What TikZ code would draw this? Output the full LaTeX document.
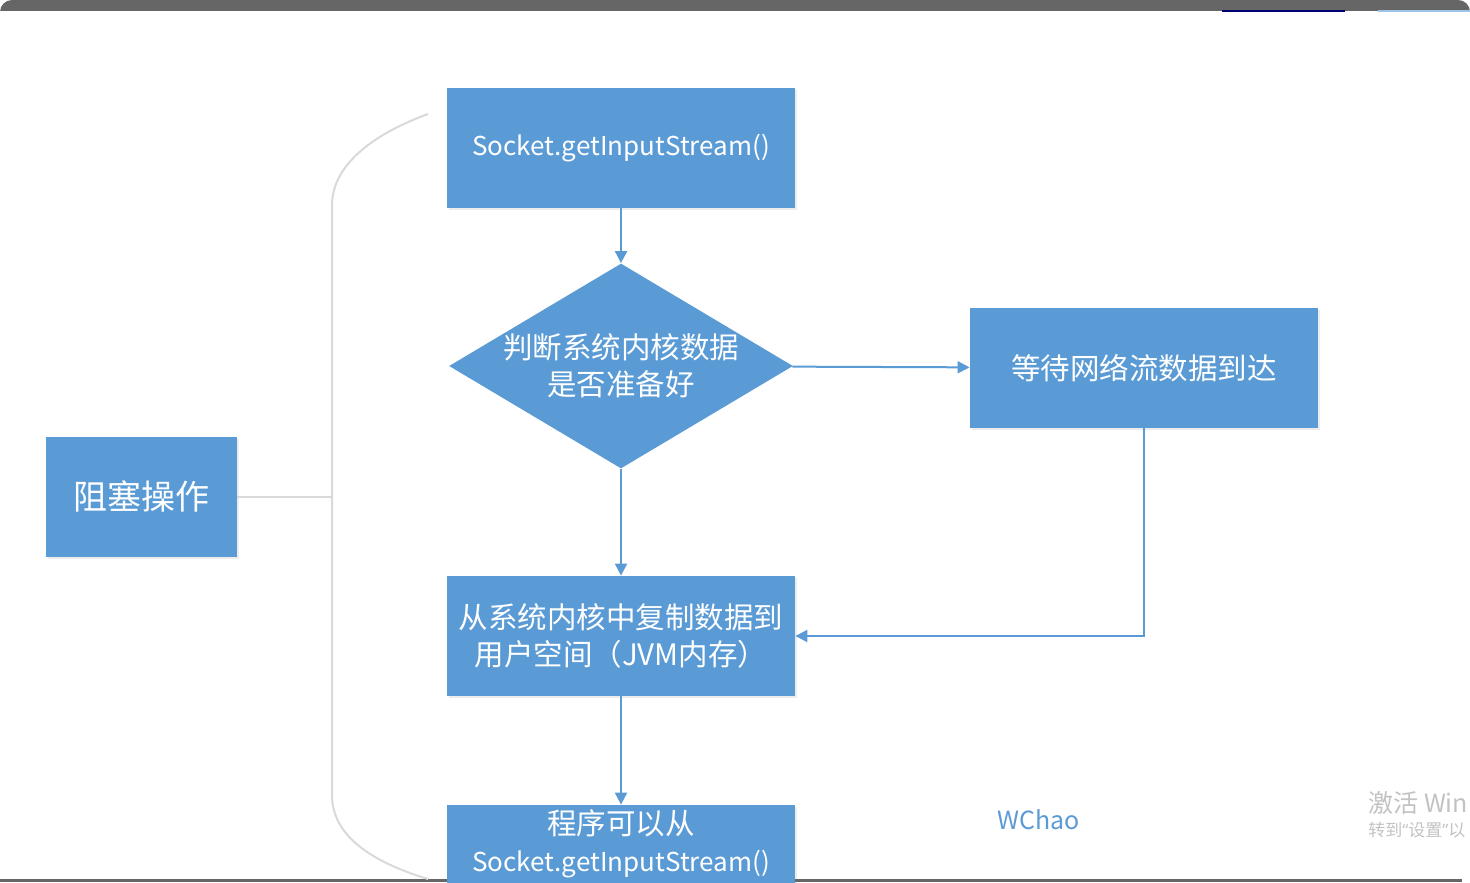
\documentclass[tikz,border=0pt]{standalone}
\usepackage{fontspec}
\setmainfont{Noto Sans CJK SC}
\newfontfamily\quotefont{Open Sans}
\usetikzlibrary{arrows.meta,shapes.geometric,shadows}
\definecolor{boxblue}{HTML}{5B9BD5}
\definecolor{linkblue}{HTML}{5B9BD5}
\definecolor{bracegray}{HTML}{D9D9D9}
\definecolor{bargray}{HTML}{666666}
\definecolor{markgray}{HTML}{C2C2C2}
\newcommand{\latinline}[1]{{\fontsize{13}{18.5}\selectfont #1}}

\begin{document}
\begin{tikzpicture}[x=0.5pt, y=-0.5pt, font=\fontsize{14.75}{18.5}\selectfont,
    >={Triangle[length=6pt, width=6pt]},
    stepbox/.style={fill=boxblue, text=white, align=center, inner sep=2pt,
      minimum width=174pt, minimum height=60pt,
      drop shadow={shadow xshift=1pt, shadow yshift=-1pt, opacity=0.15}},
    judgebox/.style={diamond, fill=boxblue, aspect=1.678, inner sep=0pt,
      minimum width=172pt, minimum height=102.5pt},
    flow/.style={->, linkblue, line width=1pt},
    braceline/.style={bracegray, line width=1pt}]
  \useasboundingbox (0,0) rectangle (1470,882);
  \clip (0,0) rectangle (1470,882);
  % window frame
  \fill[bargray] (0,11) {[rounded corners=6pt] -- (0,0) -- (1470,0)} -- (1470,11) -- cycle;
  \draw[blue!45!black, line width=1pt] (1222,11) -- (1345,11);
  \draw[boxblue!60, line width=1pt] (1378,11) -- (1470,11);
  \fill[bargray] (0,879) rectangle (1462,882);

  % main flow
  \node[stepbox] (stream) at (621,148) {\latinline{Socket.getInputStream()}};
  \node[judgebox, label={[text=white, align=center]center:判断系统内核数据\\是否准备好}] (judge) at (621,366) {};
  \node[stepbox] (wait) at (1144,368) {等待网络流数据到达};
  \node[stepbox] (copy) at (621,636) {从系统内核中复制数据到\\用户空间（JVM内存）};
  \node[stepbox, minimum height=39pt] (ready) at (621,844) {程序可以从\\\latinline{Socket.getInputStream()}};
  \draw[flow] (stream) -- (judge);
  \draw[flow] (judge) -- (wait);
  \draw[flow] (judge) -- (copy);
  \draw[flow] (wait.south) |- (copy.east);
  \draw[flow] (copy) -- (ready);

  % the bracket on the left
  \node[stepbox, minimum width=95.5pt, font=\fontsize{17}{20}\selectfont] (block) at (141.5,496.5) {阻塞操作};
  \coordinate (spine) at (332,496.5);
  \draw[braceline] (block.east) -- (spine);
  \draw[braceline] (428,114) .. controls (368,136) and (332,168) .. (332,205)
    -- (332,795) .. controls (332,836) and (372,862) .. (428,879);

  \node[text=boxblue, font=\fontsize{12.5}{15}\selectfont] (author) at (1039,820) {WChao};
  \node[anchor=base west, inner sep=0pt, text=markgray, font=\fontsize{12.5}{15}\selectfont] (mark) at (1368,812) {激活 Win};
  \node[anchor=base west, inner sep=0pt, text=markgray, font=\fontsize{8.5}{10}\selectfont] (markhint) at (1368,836) {转到{\quotefont“}设置{\quotefont”}以};
\end{tikzpicture}
\end{document}
